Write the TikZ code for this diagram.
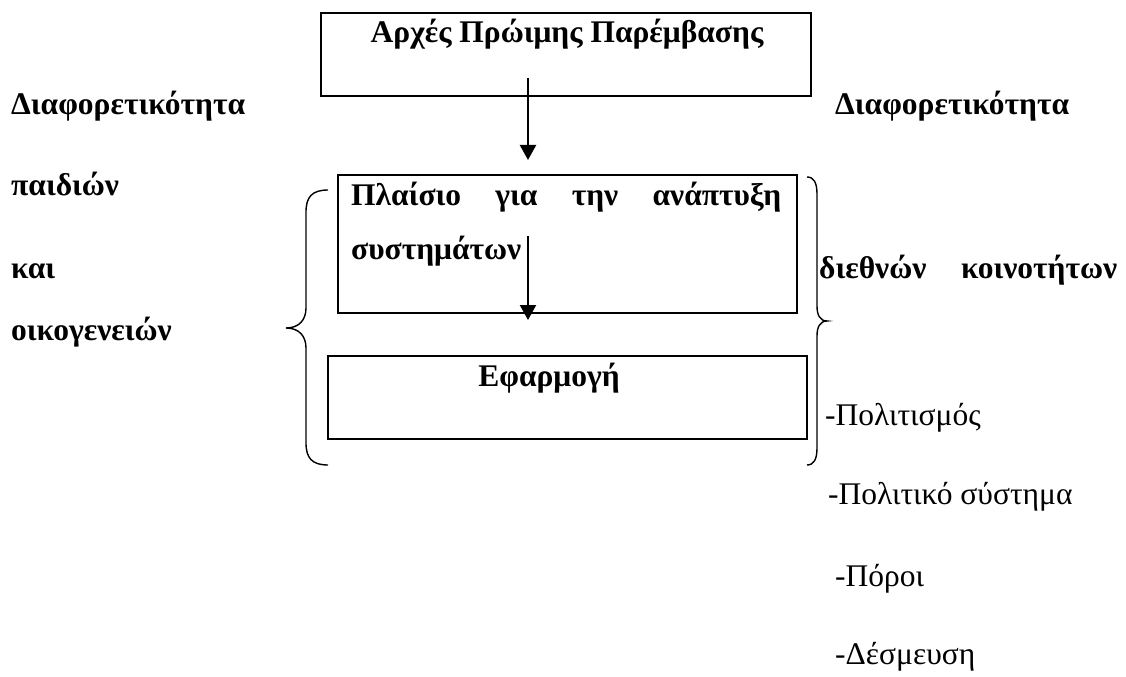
\documentclass[tikz,border=0pt]{standalone}
\usepackage{fontspec}
\setmainfont{Liberation Serif}
\usetikzlibrary{arrows.meta}
\newcommand*\textsize{\fontsize{31.5bp}{31.5bp}\selectfont}
\newcommand*\frameline{1.8bp}
\tikzset{panel/.style 2 args={
    draw,
    line width=\frameline,
    rectangle,
    anchor=north west,
    inner sep=0pt,
    minimum width=#1,
    minimum height=#2
},
heading/.style={anchor=base west, inner sep=0pt, font=\textsize\bfseries},
itemtext/.style={anchor=base west, inner sep=0pt, font=\textsize},
flow/.style={line width=2.2bp, -{Triangle[length=15bp,width=16bp]}},
curl/.style={line width=1.4bp}
}

\begin{document}
\begin{tikzpicture}[x=1bp,y=-1bp]
    \useasboundingbox (0,0) rectangle (1126,677);

    % The three frames.
    \node[panel={490bp}{83bp}] (principles) at (320,12) {};
    \node[panel={459bp}{138bp}] (framework) at (337,174) {};
    \node[panel={479bp}{83bp}] (application) at (327,355) {};

    % Texts inside the frames.
    \node[heading, anchor=base] (principlestext) at (567,43) {Αρχές Πρώιμης Παρέμβασης};
    \node[heading] (frameworkone) at (351,206) {\makebox[430bp][s]{Πλαίσιο για την ανάπτυξη}};
    \node[heading] (frameworktwo) at (351,259) {συστημάτων};
    \node[heading, anchor=base] (applicationtext) at (549,386) {Εφαρμογή};

    % Arrows between the frames.
    \coordinate (flowAstart) at (528,78);
    \coordinate (flowAend) at (528,160);
    \coordinate (flowBstart) at (528,236);
    \coordinate (flowBend) at (528,320);
    \draw[flow] (flowAstart) -- (flowAend);
    \draw[flow] (flowBstart) -- (flowBend);

    % Left column.
    \foreach \row/\word in {115/Διαφορετικότητα,196/παιδιών,278/και,340/οικογενειών}
        \node[heading] (left\row) at (11,\row) {\word};

    % Right column.
    \node[heading] (righthead) at (835,115) {Διαφορετικότητα};
    \node[heading] (rightsub) at (819,278) {\makebox[298bp][s]{διεθνών κοινοτήτων}};
    \foreach \row/\xpos/\word in {425/825/-Πολιτισμός,504/828/-Πολιτικό σύστημα,586/835/-Πόροι,664/835/-Δέσμευση}
        \node[itemtext] (item\row) at (\xpos,\row) {\word};

    % Braces.
    \draw[curl] (328,190) .. controls (312,190) and (306,197) .. (306,212) -- (306,308)
        .. controls (306,320) and (299,328) .. (286,328)
        .. controls (299,328) and (306,336) .. (306,348) -- (306,443)
        .. controls (306,458) and (312,465) .. (328,465);
    \draw[curl] (807,177) .. controls (814,177) and (817,183) .. (817,194) -- (817,306)
        .. controls (817,315) and (820,321) .. (827,321)
        .. controls (820,321) and (817,327) .. (817,336) -- (817,448)
        .. controls (817,459) and (814,465) .. (807,465);

\end{tikzpicture}
\end{document}
